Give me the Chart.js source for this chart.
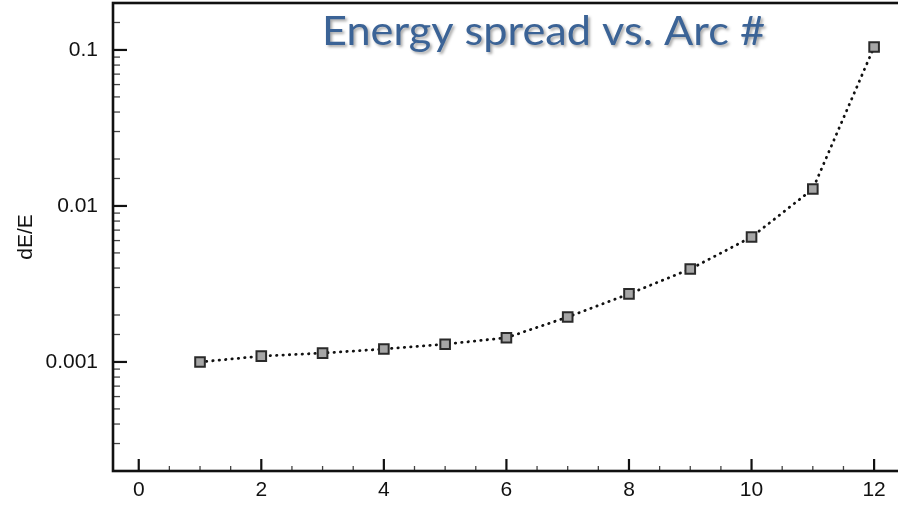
<!DOCTYPE html>
<html>
<head>
<meta charset="utf-8">
<script src="https://cdn.jsdelivr.net/npm/chart.js@4/dist/chart.umd.min.js"></script>
<style>
  html, body { margin: 0; padding: 0; background: #fff; }
  #wrap { width: 898px; height: 505px; }
</style>
</head>
<body>
<div id="wrap"><canvas id="grafico"></canvas></div>
<script>
// datos del grafico
const arcos = [1, 2, 3, 4, 5, 6, 7, 8, 9, 10, 11, 12];
const dispersion = [0.00100, 0.00109, 0.00114, 0.00121, 0.00130, 0.00143,
                    0.00194, 0.00273, 0.00394, 0.00632, 0.01285, 0.1045];
const xEtiquetas = [0, 2, 4, 6, 8, 10, 12];
const yDecadas = [0.001, 0.01, 0.1];
const yEtiquetas = ["0.001", "0.01", "0.1"];
const titulo = "Energy spread vs. Arc #";

const fuente = "'Liberation Sans', Arial, sans-serif";

// marco y ticks hacia adentro
const marco = {
  id: "marco",
  beforeDatasetsDraw(chart) {
    const { ctx, chartArea: a, scales } = chart;
    ctx.save();
    // ticks eje x
    scales.x.ticks.forEach(t => {
      const px = scales.x.getPixelForValue(t.value);
      const mayor = xEtiquetas.includes(t.value);
      ctx.lineWidth = mayor ? 2.2 : 1.3;
      ctx.strokeStyle = mayor ? "#111" : "#444";
      ctx.beginPath();
      ctx.moveTo(px, a.bottom);
      ctx.lineTo(px, a.bottom - (mayor ? 12 : 5));
      ctx.stroke();
    });
    // ticks eje y
    scales.y.ticks.forEach(t => {
      const py = scales.y.getPixelForValue(t.value);
      if (py < a.top + 1 || py > a.bottom - 1) return;
      const mayor = yDecadas.some(d => Math.abs(d - t.value) / d < 1e-6);
      ctx.lineWidth = mayor ? 2.2 : 1.3;
      ctx.strokeStyle = mayor ? "#111" : "#444";
      ctx.beginPath();
      ctx.moveTo(a.left, py);
      ctx.lineTo(a.left + (mayor ? 14 : 7), py);
      ctx.stroke();
    });
    ctx.lineWidth = 2.6;
    ctx.strokeStyle = "#111";
    ctx.strokeRect(a.left, a.top, a.right - a.left + 4, a.bottom - a.top);
    ctx.restore();
  },
  afterDraw(chart) {
    const { ctx } = chart;
    ctx.save();
    ctx.font = "40px Lato, 'Open Sans', sans-serif";
    const ancho = ctx.measureText(titulo).width;
    const escala = 443 / ancho;
    ctx.translate(322, 45);
    ctx.scale(escala, 1);
    ctx.shadowColor = "rgba(0,0,0,0.35)";
    ctx.shadowBlur = 3;
    ctx.shadowOffsetX = 2;
    ctx.shadowOffsetY = 2;
    ctx.fillStyle = "#3b6396";
    ctx.textBaseline = "alphabetic";
    ctx.fillText(titulo, 0, 0);
    ctx.restore();
  }
};

const ctx = document.getElementById("grafico").getContext("2d");
new Chart(ctx, {
  type: "line",
  data: {
    datasets: [{
      label: "dE/E",
      data: arcos.map((a, i) => ({ x: a, y: dispersion[i] })),
      borderColor: "#111",
      borderWidth: 2.8,
      borderDash: [0.4, 6],
      borderCapStyle: "round",
      pointStyle: "rect",
      pointRadius: 6.8,
      pointHoverRadius: 6.8,
      pointBackgroundColor: "#a6a6a6",
      pointBorderColor: "#2a2a2a",
      pointBorderWidth: 2,
      tension: 0,
      fill: false
    }]
  },
  options: {
    responsive: true,
    maintainAspectRatio: false,
    animation: false,
    layout: { autoPadding: false, padding: { top: 3, right: 0, left: 0, bottom: 0 } },
    plugins: {
      legend: { display: false },
      tooltip: { enabled: false }
    },
    scales: {
      x: {
        type: "linear",
        min: -0.42,
        max: 12.39,
        afterBuildTicks: s => {
          const t = [];
          for (let v = 0; v <= 12; v += 0.5) t.push({ value: v });
          s.ticks = t;
        },
        afterFit: s => {
          s.height = 34;
          s.paddingLeft = 0;
          s.paddingRight = 0;
        },
        grid: { display: false, drawTicks: false },
        border: { display: false },
        ticks: {
          autoSkip: false,
          maxRotation: 0,
          padding: 7,
          color: "#111",
          font: { family: fuente, size: 21 },
          callback: v => xEtiquetas.includes(v) ? String(v) : ""
        }
      },
      y: {
        type: "logarithmic",
        min: 0.0002,
        max: 0.2,
        afterFit: s => {
          s.width = 113;
          s.paddingTop = 0;
          s.paddingBottom = 0;
        },
        grid: { display: false, drawTicks: false },
        border: { display: false },
        title: {
          display: true,
          text: "dE/E",
          color: "#111",
          font: { family: fuente, size: 21 },
          padding: { top: 14, bottom: 0 }
        },
        ticks: {
          autoSkip: false,
          padding: 15,
          color: "#111",
          font: { family: fuente, size: 21 },
          callback: v => {
            const i = yDecadas.findIndex(d => Math.abs(d - v) / d < 1e-6);
            return i >= 0 ? yEtiquetas[i] : "";
          }
        }
      }
    }
  },
  plugins: [marco]
});
</script>
</body>
</html>
